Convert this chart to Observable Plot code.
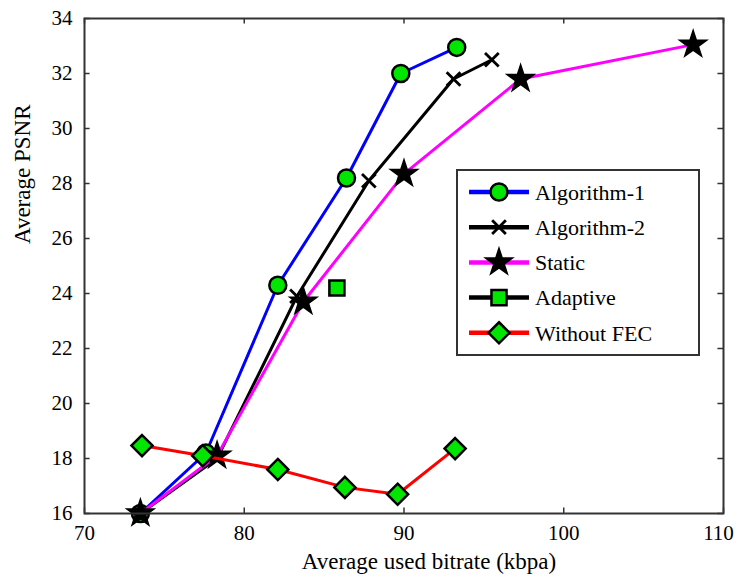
<!DOCTYPE html>
<html><head><meta charset="utf-8">
<script src="https://cdn.jsdelivr.net/npm/d3@7"></script>
<script src="https://cdn.jsdelivr.net/npm/@observablehq/plot@0.6"></script>
<style>
body{margin:0;background:#fff}
#wrap{position:relative;width:736px;height:581px}
#legend{position:absolute;left:0;top:0;pointer-events:none}
svg text{font-family:"Liberation Serif","Times New Roman",Times,serif}
</style>
</head><body><div id="wrap"></div>
<script>
// ---- data ----
const seriesNames = ["Algorithm-1", "Algorithm-2", "Static", "Adaptive", "Without FEC"];
const alg1X = [73.5, 77.6, 82.1, 86.4, 89.8, 93.3];
const alg1Y = [16.0, 18.2, 24.3, 28.2, 32.0, 32.95];
const alg2X = [73.5, 78.3, 83.3, 87.8, 93.1, 95.5];
const alg2Y = [16.0, 18.0, 23.9, 28.1, 31.8, 32.5];
const staticX = [73.5, 78.3, 83.7, 90.0, 97.3, 108.1];
const staticY = [16.0, 18.1, 23.7, 28.35, 31.8, 33.05];
const adaptiveX = [85.8];
const adaptiveY = [24.2];
const noFecX = [73.6, 77.4, 82.1, 86.3, 89.6, 93.2];
const noFecY = [18.47, 18.1, 17.6, 16.95, 16.7, 18.36];
const xTicks = [70, 80, 90, 100, 110];
const yTicks = [16, 18, 20, 22, 24, 26, 28, 30, 32, 34];

const green = "#00e600";
const font = "Liberation Serif, Times New Roman, Times, serif";

const series = [
  {name: seriesNames[0], xs: alg1X, ys: alg1Y, line: "#0000ff", symbol: "circle", r: 8.5, fill: green, sw: 2.5},
  {name: seriesNames[1], xs: alg2X, ys: alg2Y, line: "#000000", symbol: "times", r: 6.3, fill: "none", sw: 2.8},
  {name: seriesNames[2], xs: staticX, ys: staticY, line: "#ff00ff", symbol: "star", r: 8.5, fill: "#000", sw: 1.5},
  {name: seriesNames[3], xs: adaptiveX, ys: adaptiveY, line: "#000000", symbol: "square", r: 8.5, fill: green, sw: 2.5},
  {name: seriesNames[4], xs: noFecX, ys: noFecY, line: "#ff0000", symbol: "diamond2", r: 9.5, fill: green, sw: 2.5}
];

const marks = [];
for (const s of series) {
  const data = s.xs.map((x, i) => ({x, y: s.ys[i]}));
  marks.push(Plot.line(data, {x: "x", y: "y", stroke: s.line, strokeWidth: 3}));
  marks.push(Plot.dot(data, {x: "x", y: "y", symbol: () => s.symbol, r: s.r,
    fill: s.fill, stroke: "#000", strokeWidth: s.sw}));
}

const plot = Plot.plot({
  width: 736, height: 581,
  marginLeft: 84, marginRight: 13, marginTop: 18, marginBottom: 68,
  x: {domain: [70, 110]},
  y: {domain: [16, 34]},
  style: {fontFamily: font, fontSize: "21px", background: "white", color: "#000"},
  marks: [
    Plot.axisX(xTicks.slice(0, -1), {tickSize: 0, tickPadding: 12, label: null, tickFormat: d => d, fontSize: 21}),
    Plot.axisX(xTicks.slice(-1), {tickSize: 0, tickPadding: 12, label: null, tickFormat: d => d, fontSize: 21, dx: -5}),
    Plot.axisY(yTicks, {tickSize: 0, tickPadding: 12, label: null, tickFormat: d => d, fontSize: 21}),
    Plot.ruleX(xTicks, {x: d => d, y1: 16, y2: 16.2, stroke: "#333", strokeWidth: 1.5}),
    Plot.ruleX(xTicks, {x: d => d, y1: 34, y2: 33.8, stroke: "#333", strokeWidth: 1.5}),
    Plot.ruleY(yTicks, {y: d => d, x1: 70, x2: 70.35, stroke: "#333", strokeWidth: 1.5}),
    Plot.ruleY(yTicks, {y: d => d, x1: 110, x2: 109.65, stroke: "#333", strokeWidth: 1.5}),
    ...marks,
    Plot.frame({stroke: "#333", strokeWidth: 2}),
    Plot.text(["Average used bitrate (kbpa)"], {frameAnchor: "bottom", dy: 55, dx: 25, fontSize: 23}),
    Plot.text(["Average PSNR"], {frameAnchor: "left", rotate: -90, dx: -62, dy: -22, fontSize: 23})
  ]
});
const wrap = document.getElementById("wrap");
wrap.appendChild(plot);

// ---- legend overlay ----
const lg = d3.select(wrap).append("svg").attr("id", "legend").attr("width", 736).attr("height", 581);
lg.append("rect").attr("x", 457).attr("y", 170).attr("width", 242).attr("height", 185)
  .attr("fill", "#fff").attr("stroke", "#333").attr("stroke-width", 2);
const symMap = {circle: d3.symbolCircle, times: d3.symbolTimes, star: d3.symbolStar, square: d3.symbolSquare, diamond2: d3.symbolDiamond2};
series.forEach((s, i) => {
  const y = 192 + i * 35.2;
  const g = lg.append("g");
  g.append("line").attr("x1", 469).attr("x2", 529).attr("y1", y).attr("y2", y)
    .attr("stroke", s.line).attr("stroke-width", 4.5);
  g.append("path").attr("transform", `translate(499,${y})`)
    .attr("d", d3.symbol(symMap[s.symbol], Math.PI * s.r * s.r)())
    .attr("fill", s.fill).attr("stroke", "#000").attr("stroke-width", s.sw);
  g.append("text").attr("x", 535).attr("y", y).attr("dy", "0.35em")
    .attr("font-size", 22).text(s.name);
});
</script>
</body></html>
